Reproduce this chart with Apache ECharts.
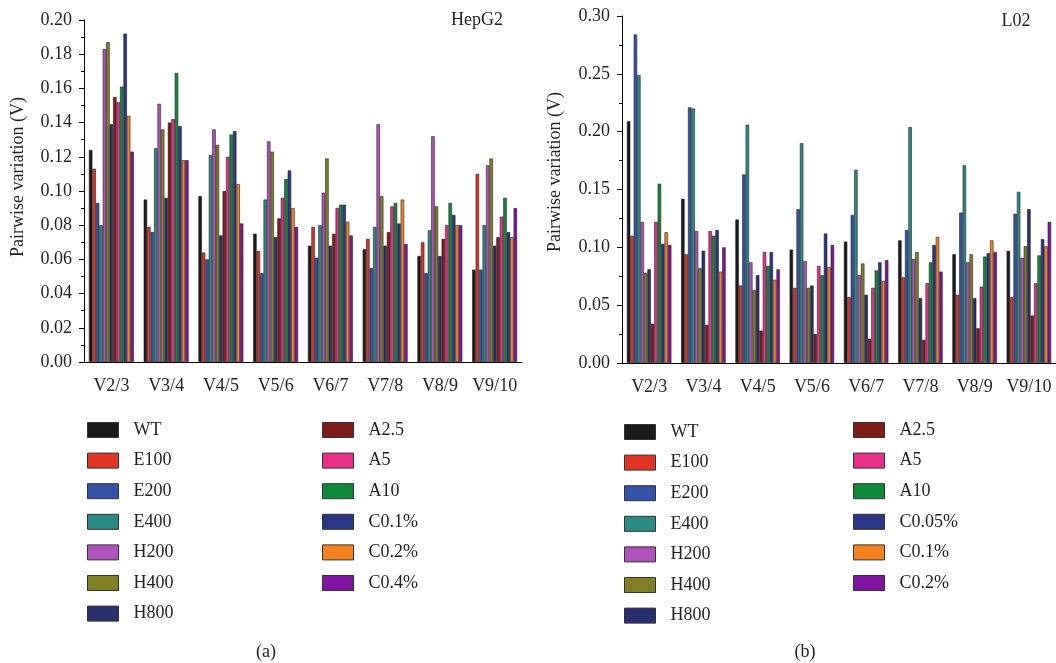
<!DOCTYPE html>
<html>
<head>
<meta charset="utf-8">
<script src="https://cdn.jsdelivr.net/npm/echarts@6/dist/echarts.min.js"></script>
<style>
html,body{margin:0;padding:0;background:#fff;}
#chart{width:1056px;height:663px;}
</style>
</head>
<body>
<div id="chart"></div>
<script>
const categories = ['V2/3','V3/4','V4/5','V5/6','V6/7','V7/8','V8/9','V9/10'];
const namesA = ['WT','E100','E200','E400','H200','H400','H800','A2.5','A5','A10','C0.1%','C0.2%','C0.4%'];
const namesB = ['WT','E100','E200','E400','H200','H400','H800','A2.5','A5','A10','C0.05%','C0.1%','C0.2%'];
const colors = ['#1a1a1a','#e03424','#3352a8','#2a8a84','#b052bc','#7f8025','#2b2f6e','#7e1c1a','#e82f8a','#0f8a3a','#2b3688','#f5821f','#7f14a0'];
const yTicksA = {min:0, max:0.20, interval:0.02};
const yTicksB = {min:0, max:0.30, interval:0.05};

// Panel (a) HepG2
const A_WT   = [0.124,0.095,0.097,0.075,0.068,0.066,0.062,0.054];
const A_E100 = [0.113,0.079,0.064,0.065,0.079,0.072,0.070,0.110];
const A_E200 = [0.093,0.076,0.060,0.052,0.061,0.055,0.052,0.054];
const A_E400 = [0.080,0.125,0.121,0.095,0.080,0.079,0.077,0.080];
const A_H200 = [0.183,0.151,0.136,0.129,0.099,0.139,0.132,0.115];
const A_H400 = [0.187,0.136,0.127,0.123,0.119,0.097,0.091,0.119];
const A_H800 = [0.139,0.096,0.074,0.073,0.068,0.068,0.062,0.068];
const A_A25  = [0.155,0.140,0.100,0.084,0.075,0.076,0.072,0.073];
const A_A5   = [0.152,0.142,0.120,0.096,0.090,0.091,0.080,0.085];
const A_A10  = [0.161,0.169,0.133,0.107,0.092,0.093,0.093,0.096];
const A_C01  = [0.192,0.138,0.135,0.112,0.092,0.081,0.086,0.076];
const A_C02  = [0.144,0.118,0.104,0.090,0.082,0.095,0.080,0.073];
const A_C04  = [0.123,0.118,0.081,0.079,0.074,0.069,0.080,0.090];

// Panel (b) L02
const B_WT   = [0.209,0.142,0.124,0.098,0.105,0.106,0.094,0.097];
const B_E100 = [0.110,0.094,0.067,0.065,0.057,0.074,0.059,0.057];
const B_E200 = [0.284,0.221,0.163,0.133,0.128,0.115,0.130,0.129];
const B_E400 = [0.249,0.220,0.206,0.190,0.167,0.204,0.171,0.148];
const B_H200 = [0.122,0.114,0.087,0.088,0.076,0.090,0.087,0.091];
const B_H400 = [0.078,0.082,0.063,0.065,0.086,0.096,0.094,0.101];
const B_H800 = [0.081,0.097,0.076,0.067,0.059,0.056,0.056,0.133];
const B_A25  = [0.034,0.033,0.028,0.025,0.021,0.020,0.030,0.041];
const B_A5   = [0.122,0.114,0.096,0.084,0.065,0.069,0.066,0.069];
const B_A10  = [0.155,0.110,0.084,0.076,0.080,0.087,0.092,0.093];
const B_C005 = [0.103,0.115,0.096,0.112,0.087,0.102,0.095,0.107];
const B_C01  = [0.113,0.079,0.072,0.083,0.071,0.109,0.106,0.101];
const B_C02  = [0.102,0.100,0.081,0.102,0.089,0.079,0.096,0.122];

const dataA = [A_WT,A_E100,A_E200,A_E400,A_H200,A_H400,A_H800,A_A25,A_A5,A_A10,A_C01,A_C02,A_C04];
const dataB = [B_WT,B_E100,B_E200,B_E400,B_H200,B_H400,B_H800,B_A25,B_A5,B_A10,B_C005,B_C01,B_C02];

const FONT = "'Liberation Serif','DejaVu Serif',serif";
const FS = 18;
const TXT = '#231f20';
const GFONT = FS + "px 'Liberation Serif', serif";

function makeSeries(names, data, xi, yi) {
  return names.map((n, i) => ({
    name: n, type: 'bar', xAxisIndex: xi, yAxisIndex: yi,
    data: data[i], barGap: '0%', barCategoryGap: '18%',
    itemStyle: {color: colors[i], borderColor: '#222', borderWidth: 0.6},
    emphasis: {disabled: true}, animation: false
  }));
}

function xAxes(gi) {
  return [
    {type:'category', gridIndex: gi, data: categories,
     axisLine:{lineStyle:{color:'#000', width:1}},
     axisTick:{alignWithLabel:true, length:5, lineStyle:{color:'#000'}},
     axisLabel:{interval:0, fontFamily:FONT, fontSize:FS, color:TXT, margin:15}},
    {type:'category', gridIndex: gi, data: categories, position:'bottom',
     axisLine:{show:false},
     axisTick:{interval:0, length:3, lineStyle:{color:'#000'}},
     axisLabel:{show:false}}
  ];
}

function yAxis(gi, t, decimals) {
  return {type:'value', gridIndex: gi, min:t.min, max:t.max, interval:t.interval,
    axisLine:{show:true, lineStyle:{color:'#000', width:1}},
    axisTick:{show:true, length:5, lineStyle:{color:'#000'}},
    minorTick:{show:true, splitNumber:2, length:3, lineStyle:{color:'#000'}},
    splitLine:{show:false},
    axisLabel:{fontFamily:FONT, fontSize:FS, color:TXT, margin:12,
      formatter: v => v.toFixed(decimals)}};
}

function legendCol(names, idxFrom, idxTo, left, top) {
  const d = [];
  for (let i = idxFrom; i < idxTo; i++) {
    d.push({name: names[i], itemStyle:{color: colors[i], borderColor:'#333', borderWidth:1}});
  }
  return {orient:'vertical', left:left, top:top, padding:0, data:d, icon:'rect',
    itemWidth:31, itemHeight:15, itemGap:12.6, selectedMode:false,
    textStyle:{fontFamily:FONT, fontSize:FS, color:TXT, lineHeight:18, padding:[0,0,0,10]}};
}

const chart = echarts.init(document.getElementById('chart'), null, {renderer:'canvas'});
chart.setOption({
  backgroundColor:'#fff',
  animation:false,
  grid:[
    {left:84, top:20, width:438, height:342},
    {left:622, top:16, width:438, height:347}
  ],
  xAxis:[...xAxes(0), ...xAxes(1)],
  yAxis:[yAxis(0, yTicksA, 2), yAxis(1, yTicksB, 2)],
  legend:[
    legendCol(namesA, 0, 7, 87, 421),
    legendCol(namesA, 7, 13, 322, 421),
    legendCol(namesB, 0, 7, 624, 423),
    legendCol(namesB, 7, 13, 853, 421)
  ],
  graphic:[
    {type:'text', x:18, y:177, rotation:Math.PI/2, style:{text:'Pairwise variation (V)', font:GFONT, fill:TXT, align:'center', verticalAlign:'middle'}},
    {type:'text', x:555, y:172, rotation:Math.PI/2, style:{text:'Pairwise variation (V)', font:GFONT, fill:TXT, align:'center', verticalAlign:'middle'}},
    {type:'text', x:477, y:20, style:{text:'HepG2', font:GFONT, fill:TXT, align:'center', verticalAlign:'middle'}},
    {type:'text', x:1016, y:21, style:{text:'L02', font:GFONT, fill:TXT, align:'center', verticalAlign:'middle'}},
    {type:'text', x:266, y:652, style:{text:'(a)', font:GFONT, fill:TXT, align:'center', verticalAlign:'middle'}},
    {type:'text', x:805, y:652, style:{text:'(b)', font:GFONT, fill:TXT, align:'center', verticalAlign:'middle'}}
  ],
  series:[...makeSeries(namesA, dataA, 0, 0), ...makeSeries(namesB, dataB, 2, 1)]
});
</script>
</body>
</html>
